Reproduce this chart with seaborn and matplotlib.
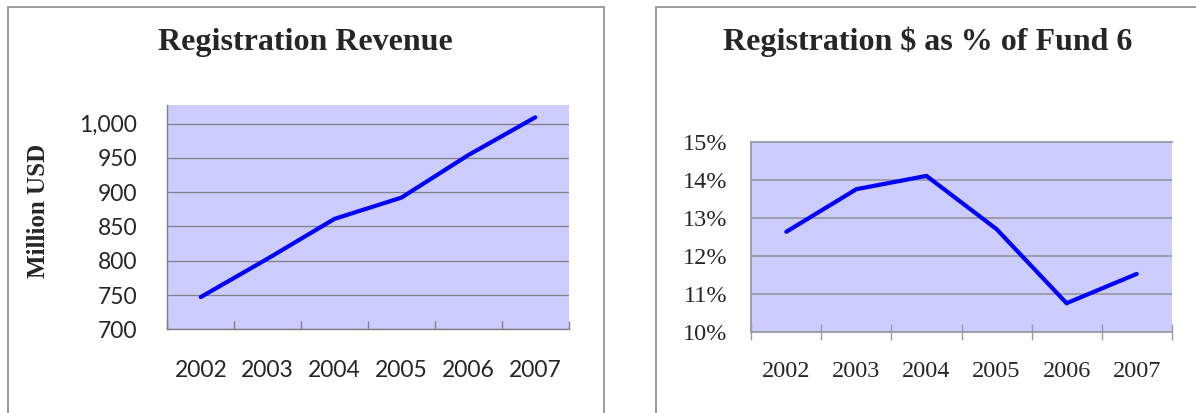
import matplotlib
matplotlib.use("Agg")
import matplotlib.pyplot as plt
import matplotlib.patches as mpatches
from matplotlib.ticker import FixedLocator, FuncFormatter
import seaborn as sns
import pandas as pd

years = ["2002", "2003", "2004", "2005", "2006", "2007"]
revenue = [747, 803, 861, 892, 954, 1009]
pct_fund6 = [12.63, 13.75, 14.10, 12.70, 10.75, 11.52]
rev_ticks = [700, 750, 800, 850, 900, 950, 1000]
pct_ticks = [10, 11, 12, 13, 14, 15]

W, H = 1196, 413
PT = 0.72  # points per pixel at 100 dpi
sns.set_theme(style="white")
fig = plt.figure(figsize=(W / 100, H / 100), dpi=100)

def fx(px):
    return px / W

def fy(py):
    return 1 - py / H

# panel frames
for x0, x1 in [(8.3, 604.3), (655.7, 1199)]:
    fig.patches.append(mpatches.Rectangle((fx(x0), fy(430)), fx(x1) - fx(x0), fy(7.3) - fy(430),
                                          transform=fig.transFigure, fill=False,
                                          edgecolor="#8c8c8c", linewidth=1.2))

bg = "#CCCCFF"
line_c = "#0000FF"

# ---------- left panel ----------
ax1 = fig.add_axes([fx(167.3), fy(329.3), fx(568.7) - fx(167.3), fy(105) - fy(329.3)])
ax1.set_facecolor(bg)
df1 = pd.DataFrame({"year": years, "value": revenue})
sns.lineplot(data=df1, x="year", y="value", ax=ax1, color=line_c, linewidth=3.0,
             solid_joinstyle="miter", solid_capstyle="round")
ax1.set_xlim(-0.5, 5.5)
ax1.set_ylim(700, 1027)
ax1.yaxis.set_major_locator(FixedLocator(rev_ticks))
ax1.yaxis.set_major_formatter(FuncFormatter(lambda v, p: f"{int(v):,}"))
ax1.set_axisbelow(True)
ax1.grid(axis="y", color="#808080", linewidth=0.9)
ax1.grid(axis="x", visible=False)
ax1.set_xlabel("")
ax1.set_ylabel("")
ax1.xaxis.set_minor_locator(FixedLocator([i - 0.5 for i in range(7)]))
ax1.tick_params(axis="x", which="major", length=0, pad=31 * PT, labelsize=16.5)
ax1.tick_params(axis="x", which="minor", direction="in", length=8 * PT, width=1.0, color="#808080", bottom=True)
ax1.tick_params(axis="y", length=0, pad=30 * PT, labelsize=16.5)
for lab in ax1.get_xticklabels() + ax1.get_yticklabels():
    lab.set_family(["Lato", "DejaVu Sans"])
for s in ["top", "right"]:
    ax1.spines[s].set_visible(False)
for s in ["left", "bottom"]:
    ax1.spines[s].set_color("#808080")
    ax1.spines[s].set_linewidth(1.0)

fig.text(fx(305.5), fy(50), "Registration Revenue", ha="center", va="baseline",
         fontsize=23, fontweight="bold", family=["Liberation Serif", "DejaVu Serif"])
fig.text(fx(38.5), fy(211), "Million USD", ha="center", va="center", rotation=90,
         fontsize=18, fontweight="bold", family=["Liberation Serif", "DejaVu Serif"])

# ---------- right panel ----------
ax2 = fig.add_axes([fx(751.3), fy(331.7), fx(1171.7) - fx(751.3), fy(141.7) - fy(331.7)])
ax2.set_facecolor(bg)
df2 = pd.DataFrame({"year": years, "value": pct_fund6})
sns.lineplot(data=df2, x="year", y="value", ax=ax2, color=line_c, linewidth=3.0,
             solid_joinstyle="miter", solid_capstyle="round")
ax2.set_xlim(-0.5, 5.5)
ax2.set_ylim(10, 15)
ax2.yaxis.set_major_locator(FixedLocator(pct_ticks))
ax2.yaxis.set_major_formatter(FuncFormatter(lambda v, p: f"{int(round(v))}%"))
ax2.set_axisbelow(True)
ax2.grid(axis="y", color="#9a9aa6", linewidth=1.3)
ax2.grid(axis="x", visible=False)
ax2.set_xlabel("")
ax2.set_ylabel("")
ax2.xaxis.set_minor_locator(FixedLocator([i - 0.5 for i in range(7)]))
ax2.tick_params(axis="x", which="major", length=0, pad=29 * PT, labelsize=17.5)
ax2.tick_params(axis="x", which="minor", direction="inout", length=16 * PT, width=1.0, color="#9a9aa6", bottom=True)
ax2.tick_params(axis="y", length=0, pad=24 * PT, labelsize=17.5)
for lab in ax2.get_xticklabels() + ax2.get_yticklabels():
    lab.set_family(["Liberation Serif", "DejaVu Serif"])
for s in ["right"]:
    ax2.spines[s].set_visible(False)
for s in ["left", "bottom", "top"]:
    ax2.spines[s].set_color("#9a9aa6")
    ax2.spines[s].set_linewidth(1.3)

fig.text(fx(927.5), fy(50), "Registration $ as % of Fund 6", ha="center", va="baseline",
         fontsize=23, fontweight="bold", family=["Liberation Serif", "DejaVu Serif"])

fig.savefig("out.png", dpi=100)
